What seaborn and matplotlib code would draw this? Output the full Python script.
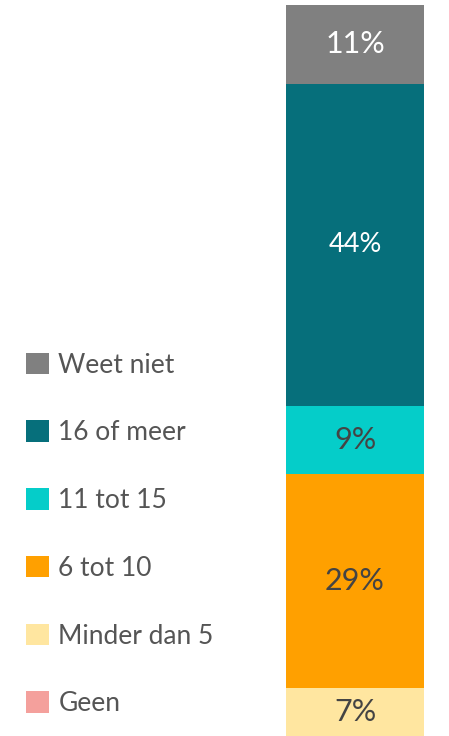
import numpy as np
import pandas as pd
import matplotlib
matplotlib.use("Agg")
import matplotlib.pyplot as plt
import seaborn as sns
from matplotlib.patches import Patch

# ---- data (bottom -> top) ----
categories = ["Geen", "Minder dan 5", "6 tot 10", "11 tot 15", "16 of meer", "Weet niet"]
values = [0.0, 6.5, 29.4, 9.3, 44.0, 10.8]
labels = ["", "7%", "29%", "9%", "44%", "11%"]
colors = ["#f4a09c", "#ffe6a0", "#ffa000", "#05cdc9", "#066f7b", "#808080"]
label_colors = ["#444444", "#444444", "#444444", "#444444", "#ffffff", "#ffffff"]
label_sizes = [22, 22, 22, 22, 19.5, 22]

sns.set_style("white")
plt.rcParams['font.family'] = ['Lato', 'DejaVu Sans']

fig = plt.figure(figsize=(4.49, 7.36), dpi=100)
ax = fig.add_axes([286 / 449, 0.0, 138 / 449, 731 / 736])

# stacked bar: draw cumulative totals, largest first
cum = np.cumsum(values)
for i in range(len(values) - 1, -1, -1):
    df = pd.DataFrame({"x": ["bar"], "y": [cum[i]]})
    sns.barplot(data=df, x="x", y="y", color=colors[i], width=1.0,
                saturation=1, ax=ax, edgecolor="none", linewidth=0)

ax.set_ylim(0, cum[-1])
ax.set_xlim(-0.5, 0.5)
ax.axis("off")

# segment labels
starts = cum - np.array(values)
for i, lab in enumerate(labels):
    if lab:
        ax.text(0, starts[i] + values[i] / 2, lab, ha="center", va="center",
                color=label_colors[i], fontsize=label_sizes[i])

# legend (top -> bottom)
handles = [Patch(facecolor=c, edgecolor="none") for c in colors[::-1]]
leg = fig.legend(handles, categories[::-1], loc="upper left",
                 bbox_to_anchor=(0.035, 1 - 342 / 736), frameon=False,
                 fontsize=19, labelspacing=1.62, handlelength=0.87,
                 handleheight=0.87, handletextpad=0.35, borderaxespad=0)
for t in leg.get_texts():
    t.set_color("#555555")

fig.savefig("out.png", dpi=100)
